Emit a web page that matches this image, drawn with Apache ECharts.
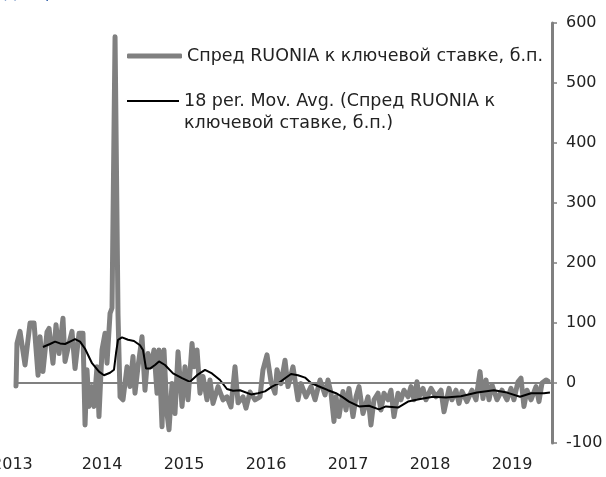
<!DOCTYPE html>
<html>
<head>
<meta charset="utf-8">
<script src="https://cdn.jsdelivr.net/npm/echarts@6/dist/echarts.min.js"></script>
<style>
  html, body { margin: 0; padding: 0; background: #fff; }
  #main { width: 606px; height: 477px; }
</style>
</head>
<body>
<div id="main"></div>
<script>
  // weekly spread (x as decimal year)
  var spreadYears = [
    2012.951, 2012.963, 2013.000, 2013.061, 2013.122, 2013.171, 2013.220, 2013.244, 2013.280, 2013.329,
    2013.354, 2013.402, 2013.439, 2013.476, 2013.524, 2013.549, 2013.598, 2013.634, 2013.671, 2013.720,
    2013.768, 2013.793, 2013.817, 2013.841, 2013.878, 2013.902, 2013.939, 2013.963, 2014.000, 2014.037,
    2014.061, 2014.098, 2014.122, 2014.159, 2014.195, 2014.220, 2014.256, 2014.305, 2014.341, 2014.378,
    2014.402, 2014.439, 2014.488, 2014.524, 2014.561, 2014.598, 2014.634, 2014.671, 2014.695, 2014.732,
    2014.756, 2014.793, 2014.817, 2014.854, 2014.890, 2014.927, 2014.976, 2015.012, 2015.049, 2015.098,
    2015.122, 2015.159, 2015.195, 2015.232, 2015.280, 2015.317, 2015.354, 2015.415, 2015.476, 2015.524,
    2015.573, 2015.622, 2015.659, 2015.720, 2015.756, 2015.805, 2015.866, 2015.927, 2015.963, 2016.012,
    2016.061, 2016.110, 2016.134, 2016.183, 2016.232, 2016.268, 2016.329, 2016.390, 2016.427, 2016.488,
    2016.549, 2016.598, 2016.659, 2016.720, 2016.756, 2016.793, 2016.829, 2016.854, 2016.890, 2016.939,
    2016.976, 2017.012, 2017.061, 2017.098, 2017.134, 2017.183, 2017.244, 2017.280, 2017.317, 2017.366,
    2017.402, 2017.439, 2017.488, 2017.524, 2017.561, 2017.610, 2017.646, 2017.683, 2017.732, 2017.768,
    2017.805, 2017.841, 2017.866, 2017.915, 2017.951, 2018.012, 2018.073, 2018.134, 2018.171, 2018.232,
    2018.268, 2018.317, 2018.354, 2018.390, 2018.451, 2018.512, 2018.561, 2018.610, 2018.646, 2018.683,
    2018.720, 2018.756, 2018.817, 2018.878, 2018.939, 2018.988, 2019.024, 2019.073, 2019.110, 2019.146,
    2019.183, 2019.232, 2019.293, 2019.329, 2019.366, 2019.415, 2019.439
  ];
  var spreadValues = [
    -5, 66, 86, 30, 100, 100, 13, 77, 19, 85,
    91, 33, 97, 49, 108, 36, 66, 86, 24, 83,
    83, -70, 22, -39, -6, -39, 27, -56, 55, 83,
    33, 116, 125, 577, 115, -23, -28, 27, -6, 44,
    -17, 27, 77, -12, 49, 27, 55, -17, 55, -73,
    55, -51, -78, -1, -51, 52, -39, 27, -28, 66,
    27, 55, -17, 11, -28, 5, -34, -6, -28, -23,
    -40, 27, -33, -23, -42, -15, -28, -23, 22, 47,
    2, -17, 22, -1, 38, -6, 27, -28, -1, -23,
    -6, -28, 5, -20, 5, -17, -64, -23, -56, -14,
    -45, -9, -56, -23, -6, -51, -23, -70, -28, -17,
    -45, -17, -28, -12, -56, -17, -28, -12, -23, -6,
    -28, 2, -23, -9, -28, -9, -23, -12, -48, -9,
    -28, -12, -34, -14, -31, -12, -28, 19, -26, 5,
    -28, -3, -28, -12, -28, -9, -28, 2, 8, -39,
    -12, -28, -6, -31, 0, 5, 3
  ];

  // 18 per. moving average
  var maYears = [
    2013.280, 2013.366, 2013.427, 2013.488, 2013.549, 2013.610, 2013.671, 2013.732, 2013.793, 2013.878,
    2013.963, 2014.024, 2014.098, 2014.146, 2014.171, 2014.195, 2014.244, 2014.317, 2014.390, 2014.463,
    2014.500, 2014.537, 2014.585, 2014.646, 2014.695, 2014.768, 2014.866, 2014.976, 2015.073, 2015.159,
    2015.256, 2015.341, 2015.439, 2015.524, 2015.598, 2015.683, 2015.817, 2015.902, 2015.988, 2016.073,
    2016.146, 2016.232, 2016.305, 2016.390, 2016.476, 2016.549, 2016.634, 2016.756, 2016.854, 2016.939,
    2017.012, 2017.134, 2017.256, 2017.378, 2017.463, 2017.610, 2017.732, 2017.866, 2018.037, 2018.195,
    2018.378, 2018.573, 2018.780, 2018.939, 2019.098, 2019.232, 2019.390, 2019.463
  ];
  var maValues = [
    60, 65, 69, 66, 65, 69, 73, 69, 57, 33,
    19, 13, 17, 22, 50, 72, 76, 72, 70, 63,
    55, 24, 24, 30, 36, 30, 16, 8, 2, 13,
    22, 16, 5, -10, -13, -12, -19, -17, -14, -6,
    -1, 8, 15, 13, 9, 0, -5, -12, -17, -24,
    -31, -39, -38, -44, -39, -41, -31, -27, -23, -24,
    -22, -16, -12, -16, -23, -17, -17, -16
  ];

  var yearLabels = [2013, 2014, 2015, 2016, 2017, 2018, 2019];
  var spreadName = 'Спред RUONIA к ключевой ставке, б.п.';
  var maName = '18 per. Mov. Avg. (Спред RUONIA к ключевой ставке, б.п.)';

  function zip(xs, ys) {
    return xs.map(function (x, i) { return [x, ys[i]]; });
  }

  var font = 'DejaVu Sans';
  var chart = echarts.init(document.getElementById('main'));
  chart.setOption({
    animation: false,
    textStyle: { fontFamily: font },
    graphic: [{
      type: 'text', left: 4, top: -14,
      style: { text: 'Диаграмма', fill: '#2f5ea8', font: '16px ' + font }
    }],
    legend: [{
      data: [spreadName],
      orient: 'vertical',
      left: 127, top: 45, padding: 0,
      icon: 'roundRect',
      itemWidth: 55, itemHeight: 5,
      textStyle: { color: '#222', fontSize: 17.5, lineHeight: 22, fontFamily: font }
    }, {
      data: [maName],
      orient: 'vertical',
      left: 127, top: 68, padding: 0,
      icon: 'rect',
      itemWidth: 52, itemHeight: 2,
      formatter: function () { return '\n18 per. Mov. Avg. (Спред RUONIA к\nключевой ставке, б.п.)'; },
      textStyle: { color: '#222', fontSize: 17.5, lineHeight: 22, fontFamily: font }
    }],
    grid: { left: 16, right: 54, top: 23, bottom: 34, containLabel: false, outerBoundsMode: 'none' },
    xAxis: {
      type: 'value',
      min: 2012.951,
      max: 2019.488,
      axisLine: { show: false },
      axisTick: { show: false },
      splitLine: { show: false },
      axisLabel: {
        customValues: yearLabels,
        margin: 14,
        color: '#222',
        fontSize: 16,
        formatter: function (v) {
          return v === 2013 ? '2013\u00a0\u00a0\u00a0' : String(v);
        }
      }
    },
    yAxis: {
      type: 'value',
      position: 'right',
      min: -100,
      max: 600,
      interval: 100,
      axisLine: { show: true, lineStyle: { color: '#808080', width: 3 } },
      axisTick: { show: true, length: 5, lineStyle: { color: '#808080', width: 1.5 } },
      splitLine: { show: false },
      axisLabel: { margin: 14, color: '#222', fontSize: 16 }
    },
    series: [{
      name: spreadName,
      type: 'line',
      symbol: 'none',
      lineStyle: { color: '#808080', width: 5, cap: 'round', join: 'round' },
      itemStyle: { color: '#808080' },
      data: zip(spreadYears, spreadValues),
      markLine: {
        silent: true,
        symbol: 'none',
        label: { show: false },
        lineStyle: { color: '#808080', width: 2, type: 'solid' },
        data: [{ yAxis: 0 }]
      },
      z: 2
    }, {
      name: maName,
      type: 'line',
      symbol: 'none',
      lineStyle: { color: '#000', width: 2 },
      itemStyle: { color: '#000' },
      data: zip(maYears, maValues),
      z: 3
    }]
  });
</script>
</body>
</html>
